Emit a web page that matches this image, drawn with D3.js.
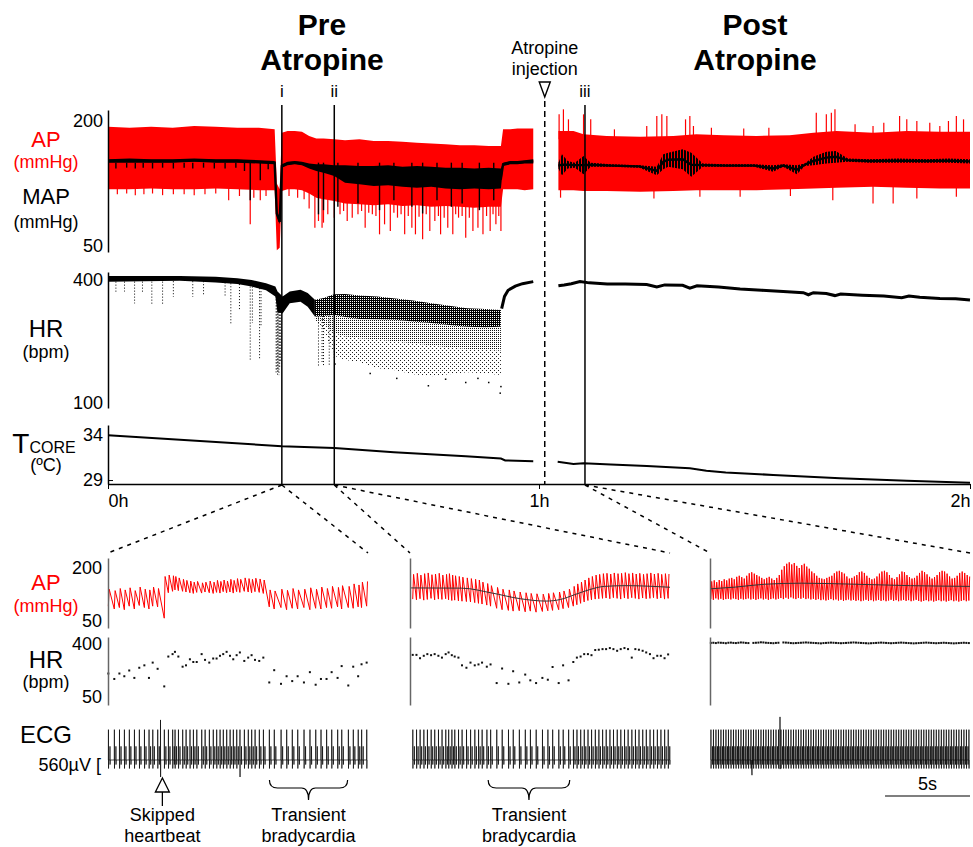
<!DOCTYPE html>
<html>
<head>
<meta charset="utf-8">
<script src="https://cdn.jsdelivr.net/npm/d3@7"></script>
<style>
  body { margin: 0; background: #fff; }
  svg { display: block; font-family: "Liberation Sans", Arial, sans-serif; }
</style>
</head>
<body>
<script>
// ---------------- overview data (time in minutes) ----------------

// arterial pressure band before atropine (mmHg)
var apPreT  = [0, 3, 6, 9, 12, 15, 18, 21, 23.2, 23.5, 23.9, 24.2, 25, 26, 27, 28, 29, 30, 31.5, 33, 35, 37, 39, 41, 43, 45, 47, 49, 51, 53, 54.7, 55.0, 56, 57, 58, 59.2];
var apPreHi = [193, 192, 193, 192, 194, 193, 192, 192, 190, 125, 118, 186, 188, 188, 187, 182, 179, 179, 178, 177, 178, 176, 176, 175, 174, 173, 172, 171, 171, 170, 170, 190, 190, 191, 191, 191];
var apPreLo = [118, 118, 119, 118, 118, 119, 118, 117, 117, 45, 48, 116, 118, 118, 117, 113, 108, 106, 104, 101, 100, 99, 100, 98, 99, 97, 98, 97, 96, 97, 97, 118, 118, 118, 117, 118];
var mapPreHi = [154, 155, 154, 154, 155, 154, 154, 153, 152, 92, 82, 148, 151, 152, 151, 149, 148, 148, 147, 147, 146, 146, 147, 145, 146, 145, 144, 144, 143, 144, 143, 150, 152, 152, 153, 154];
var mapPreLo = [150, 150, 150, 150, 151, 150, 150, 149, 148, 86, 76, 144, 147, 148, 147, 143, 140, 138, 134, 126, 124, 122, 123, 121, 120, 121, 119, 118, 119, 118, 119, 146, 148, 148, 149, 149];
var apPreSpikes = [[1.3,112],[2.6,113],[3.8,111],[5.0,112],[6.2,113],[7.6,111],[9.1,112],[10.6,112],[12.0,111],[13.5,112],[15.0,113],[16.8,105],[18.3,110],[19.8,76],[20.3,108],[21.2,105],[22.0,110],
  [25.2,110],[26.4,108],[27.3,106],[28.0,95],[28.8,72],[29.3,80],[29.8,72],[30.0,78],[30.6,88],[31.5,84],[32.3,88],[32.8,92],[33.3,80],[34.0,84],[34.8,88],[35.3,92],[35.8,72],[36.3,90],[36.8,88],[37.3,86],[37.8,64],[38.5,76],[39.3,68],[39.8,90],[40.3,84],[40.8,88],[41.3,64],[41.8,86],[42.3,72],[42.8,64],[43.3,85],[43.8,58],[44.3,88],[44.8,68],[45.5,80],[46.0,86],[46.3,64],[46.8,84],[47.3,72],[48.0,64],[48.4,88],[48.8,84],[49.3,86],[49.8,60],[50.3,84],[50.8,68],[51.5,72],[52.2,64],[52.7,86],[53.2,68],[53.6,88],[54.0,76],[54.4,86],[54.7,68]];
var mapPreDips = [[1.1,143],[2.6,144],[3.8,143],[4.9,144],[6.2,143],[7.6,144],[9.1,143],[10.6,144],[11.8,143],[13.3,144],[14.8,143],[16.3,143],[17.8,144],[19.0,140],[19.8,105],[21.2,129],[22.3,142],
  [29.3,88],[30.0,93],[32.0,97],[34.8,101],[37.8,93],[39.8,105],[42.3,97],[43.8,89],[45.8,105],[47.8,97],[49.3,101],[51.7,93],[53.7,105]];

// arterial pressure band after atropine
var apPostT  = [62.7, 64.8, 66.2, 69.4, 74.1, 78.7, 81.9, 85.7, 90.3, 94.9, 98.2, 101.4, 106.5, 111.2, 115.8, 120];
var apPostHi = [188, 188, 184, 182, 181, 182, 184, 183, 182, 183, 186, 188, 186, 188, 187, 187];
var apPostLo = [117, 117, 116, 116, 115, 116, 117, 117, 117, 118, 119, 120, 121, 120, 119, 119];
var apPostUp = [[62.8,208],[63.4,214],[64.1,202],[66.2,208],[67.2,202],[70.5,190],[75.0,194],[76.4,206],[77.1,208],[77.8,206],[80.4,202],[81.0,206],[81.5,194],[84.0,192],[88.5,191],[92.0,192],
  [98.6,210],[100.0,208],[100.7,210],[101.2,214],[104.0,196],[106.5,194],[108.0,198],[110.2,206],[111.2,202],[112.6,200],[114.4,198],[115.8,194],[117.0,200],[118.1,206],[119.1,202]];
var apPostDown = [[63.0,108],[76.0,107],[82.4,109],[88.0,109],[95.0,110],[100.9,105],[106.5,101],[109.3,101],[112.6,107],[118.1,109]];
var mapPostT  = [62.7, 63.2, 64.0, 65.0, 66.2, 67.2, 70, 74, 76.4, 77.3, 78.0, 80.0, 81.2, 82.8, 86, 90, 92.6, 94, 95.9, 97, 98.2, 100, 101.3, 103, 106, 110, 114, 117, 120];
var mapPostHi = [150, 160, 152, 150, 158, 150, 148, 147, 145, 160, 162, 166, 162, 149, 148, 148, 147, 148, 147, 149, 157, 163, 164, 155, 154, 155, 154, 155, 154];
var mapPostLo = [143, 135, 143, 144, 136, 145, 145, 144, 135, 142, 145, 142, 133, 145, 145, 145, 139, 145, 136, 146, 147, 149, 150, 151, 150, 150, 150, 150, 149];

// heart rate (bpm)
var hrBandT  = [0, 5, 10, 15, 18, 20, 22, 23.3, 23.6, 24.0, 24.3, 25.3, 26.8, 27.8, 28.8];
var hrBandHi = [410, 410, 410, 408, 404, 400, 392, 384, 372, 365, 360, 372, 376, 368, 352];
var hrBandLo = [396, 397, 398, 394, 390, 384, 375, 360, 320, 320, 318, 343, 347, 335, 311];
var hrColumns = [[1.1,396,368],[2.3,396,372],[3.7,396,343],[4.8,396,368],[6.1,396,339],[7.6,396,339],[9.1,397,359],[11.8,397,359],[13.3,397,364],[16.3,394,359],[17.1,392,291],[18.3,390,327],[19.8,384,205],[20.1,384,295],[21.1,380,205],[21.3,380,286],
  [23.4,360,170],[23.5,360,180],[23.6,340,165],[23.7,340,175],[23.8,330,168],[23.9,330,185],[24.0,330,200],
  [29.3,311,189],[29.8,312,200],[30.0,312,189],[30.8,313,189],[31.5,315,205]];
var hrDenseT  = [28.8, 30, 31.5, 33, 35, 37.5, 40, 42.5, 45, 47.5, 50, 52.5, 54.7];
var hrDenseHi = [352, 356, 365, 366, 362, 360, 355, 350, 343, 337, 331, 329, 327];
var hrDenseLo = [311, 312, 315, 310, 305, 304, 303, 299, 295, 290, 286, 285, 286];
var hrMidLo   = [305, 295, 270, 262, 258, 255, 250, 246, 240, 236, 232, 230, 228];
var hrSparseLo = [300, 280, 215, 205, 200, 185, 180, 170, 165, 170, 175, 172, 168];
var hrOutliers = [[31.6,195],[36.5,172],[40.2,160],[44.6,142],[47.0,158],[49.8,150],[51.5,160],[53.0,150],[54.6,124],[54.7,140]];
var hrRecoverT = [54.8, 55.2, 55.7, 56.7, 57.7, 59.2];
var hrRecover  = [330, 360, 375, 385, 391, 396];
var hrPostT = [62.7, 63.5, 64.5, 65.7, 67, 69.5, 72, 75, 76.4, 77.5, 80, 81, 82, 85, 88, 91, 94, 96.8, 97.5, 98.2, 100, 101.2, 102, 105, 108, 110.5, 111.5, 113, 115.8, 118, 120];
var hrPost  = [386, 388, 391, 396, 393, 390, 390, 389, 383, 388, 387, 380, 386, 383, 378, 375, 372, 369, 364, 369, 367, 362, 366, 363, 361, 357, 361, 358, 355, 354, 351];

// core temperature (ºC)
var tPreT  = [0, 24.2, 31.5, 39.8, 49.8, 54.7, 55.3, 59.2];
var tPre   = [33.98, 32.76, 32.57, 32.09, 31.64, 31.39, 31.17, 31.09];
var tPostT = [62.6, 64.8, 66.2, 70, 75, 81, 83.3, 86, 92.6, 101.9, 111.2, 120];
var tPost  = [31.03, 30.78, 30.86, 30.72, 30.57, 30.3, 30.03, 29.85, 29.56, 29.19, 28.92, 28.7];

var markerLabels = ["i", "ii", "iii"];
var markerTimes = [24.2, 31.5, 66.4];
var injectionTime = 60.8;
var hourTicks = [0, 60, 120];
var hourLabels = ["0h", "1h", "2h"];

// ---------------- zoomed panels (time in seconds) ----------------
var panelSpan = 15.3;

var beatT_i = [0.02,0.37,0.67,0.96,1.25,1.55,1.84,2.14,2.41,2.63, 2.92,3.31,3.55,3.80,3.94,4.14,4.39,4.59,4.82,5.02,
  5.22,5.51,5.71,5.96,6.19,6.39,6.59,6.78,6.98,7.18, 7.37,7.57,7.76,8.02,8.25,8.45,8.65,8.90,9.14,9.49,
  9.78,10.18,10.51,10.84,11.16,11.53,11.88,12.22,12.53,12.86, 13.16,13.51,13.75,14.14,14.43,14.72,14.92,15.22];
var hr_i = [205,169,205,187,225,176,243,259,176,277, 236,120,317,333,348,317,250,259,299,281,
  281,333,295,277,304,304,322,333,348,322, 299,326,344,288,310,326,295,288,310,146,
  227,137,187,155,187,146,214,131,169,169, 214,176,254,126,250,187,266,277];
var sys_i = [140,136,142,138,144,136,146,140,138,146,142, 176,
  180,178,176,172,168,165,163,160,162,158,160,163,160,165,162,166,163,168,165,170,168,172,170,168,171,169,166,
  138,135,140,137,142,138,140,144,140,146,142,148,145,150,148,155,152,160,162];
var dia_i = [92,84,88,82,92,84,94,88,84,92,90, 58,
  130,134,138,136,134,132,130,128,131,129,132,130,128,131,129,133,130,132,129,133,131,134,132,130,133,131,128,
  90,84,88,82,86,84,88,82,86,84,88,86,90,84,88,86,90,88,92];

var beatT_ii = [0.16,0.38,0.59,0.81,1.02,1.24,1.45,1.67,1.88,2.10, 2.27,2.46,2.63,2.85,3.06,3.32,3.56,3.81,4.03,4.24,
  4.52,4.74,5.10,5.42,5.79,6.07,6.43,6.78,7.08,7.42, 7.79,8.11,8.39,8.75,9.01,9.33,9.61,9.82,10.04,10.25,
  10.47,10.68,10.90,11.11,11.33,11.54,11.76,11.97,12.19,12.40, 12.62,12.83,13.05,13.26,13.47,13.69,13.90,14.12,14.33,14.55,
  14.76,14.98,15.19];
var hr_ii = [328,328,306,322,333,326,333,322,310,333, 344,326,317,310,259,243,277,259,265,277,
  250,265,142,238,137,220,146,198,160,142, 176,164,248,142,259,160,281,310,317,333,
  333,326,360,362,366,366,373,366,355,366, 373,366,310,366,362,355,344,333,306,322,
  322,306,331];
var sys_ii = [182,185,180,184,186,181,183,185,180,182, 184,180,178,176,174,172,170,168,166,160,
  156,150, 145,140,138,135,132,130,128,127, 126,128,130,132,135,140,148,
  155,160,166,172,176,180,182,184, 185,183,186,184,185,187,184,186,183,185,182,184,186,183,185,182,184,183];
var dia_ii = [112,110,113,109,111,114,110,112,111,113, 110,108,109,107,106,105,104,102,100,98,
  95,92, 86,82,80,78,79,76,78,75, 77,79,80,82,85,88,92,
  96,100,104,108,110,112,113,114, 115,113,116,114,112,115,113,116,114,112,115,113,114,116,113,115,112,114];
var mapII = [[0.06,143.6],[3.06,143],[4.78,129.6],[6.5,113],[8.0,106.4],[8.86,111],[9.72,125],[10.58,139],[11.43,148],[12.72,150],[15.3,145.5]];

// panel iii: beats follow one another at 60/HR seconds
var hrIIIStart = 0.05;
var hr_iii = [407,408,406,409,408,407,405,408,409,407,406,408,410,409,407,406,405,407,408,409,411,410,408,407,406,405,407,408,409,410,
  409,408,406,405,406,407,408,409,410,409,408,407,406,405,404,406,407,408,409,408,407,406,405,406,407,408,409,410,409,408,
  407,406,405,404,405,406,407,408,409,408,407,406,405,406,407,408,409,408,407,406,405,404,405,406,407,408,409,408,407,406,
  405,406,407,408,407,406,405,404,405,406,407,408,407,406];
var hrIIIGaps = [16, 28];
var sys_iii = [162,165,160,166,163,168,165, 170,172,168,175,178,174,170, 178,185,188,184,180,176,172, 168,172,175,170,166,172,180,
  195,205,212,216,210,214,206,200, 208,212,204,198,190,185,178,172, 170,168,172,175,178,185,190,192, 188,184,176,170,172,176,180,188,
  190,186,178,172,168,170,176,184, 190,192,188,180,172,168,174,182, 190,188,180,174,170,172,178,186, 192,188,182,175,170,174,180,188,
  192,190,184,176,170,172,178,186,190,186,180,176];
var dia_iii = [112,110,114,111,113,110,112, 113,111,114,112,110,113,111, 112,114,111,113,110,112,114, 111,113,110,112,114,111,113,
  115,112,116,113,117,114,112,115, 113,116,112,114,111,113,110,112, 109,111,108,110,112,109,111,108, 110,107,109,111,108,110,107,109,
  106,108,110,107,109,106,108,110, 107,109,106,108,110,107,109,106, 108,110,107,109,106,108,110,107, 105,107,109,106,108,105,107,109,
  106,108,105,107,109,106,108,105,107,109,106,108];
var mapIII = [[0,141],[1.5,146],[3.2,154],[5.4,157],[8.6,154],[11.8,150],[15.3,148]];

// one ECG complex (s after R onset, µV) and the odd deflections in each panel
var ecgShape = [[0,0],[0.006,1000],[0.012,-280],[0.02,0],[0.09,0],[0.096,450],[0.102,-150],[0.11,0]];
var ecgExtra_i = [[3.085,0],[3.09,1320],[3.095,-560],[3.10,0],[7.70,0],[7.77,-560],[7.86,0]];
var ecgExtra_ii = [[12.58,0],[12.62,420],[12.68,0]];
var ecgExtra_iii = [[2.42,0],[2.47,-500],[2.52,0],[4.115,0],[4.12,1420],[4.125,-300],[4.13,0]];

var RED = "#ff0000";

// ---------------- drawing ----------------
var svg = d3.select("body").append("svg")
    .attr("width", 973)
    .attr("height", 847);

var defs = svg.append("defs");
function speckle(id, w, h, cells, color) {
  var p = defs.append("pattern").attr("id", id)
      .attr("width", w).attr("height", h).attr("patternUnits", "userSpaceOnUse");
  cells.forEach(function(c) {
    p.append("rect").attr("x", c[0]).attr("y", c[1]).attr("width", c[2]).attr("height", c[3]).attr("fill", color);
  });
}
speckle("dense", 2, 2, [[0, 0, 2, 1], [1, 1, 1, 1]], "#000");     // thick part of the HR cloud
speckle("mid", 2, 2, [[0, 0, 1, 1]], "#111");                       // thinner part
speckle("sparse", 4, 4, [[0, 0, 1, 1], [2, 2, 1, 1]], "#222");      // scattered beats
speckle("hatch", 3, 2, [[0, 0, 2, 2]], "#000");                     // spread of the post MAP trace

function pairs(t, a, b) {
  return t.map(function(d, i) { return b ? [d, a[i], b[i]] : [d, a[i]]; });
}

// overview scales
var x = d3.scaleLinear().domain([0, 120]).range([108, 970]);
var yAP = d3.scaleLinear().domain([42.8, 213.2]).range([252, 110]);
var yHR = d3.scaleLinear().domain([87.8, 419.5]).range([408, 272]);
var yT = d3.scaleLinear().domain([28.56, 35.11]).range([484, 425]);

function band(yScale) {
  return d3.area()
      .x(function(d) { return x(d[0]); })
      .y0(function(d) { return yScale(d[2]); })
      .y1(function(d) { return yScale(d[1]); });
}
function trace(yScale) {
  return d3.line()
      .x(function(d) { return x(d[0]); })
      .y(function(d) { return yScale(d[1]); });
}

// AP bands
var apG = svg.append("g");
apG.append("path").datum(pairs(apPreT, apPreHi, apPreLo)).attr("fill", RED).attr("d", band(yAP));
apG.append("path").datum(pairs(apPostT, apPostHi, apPostLo)).attr("fill", RED).attr("d", band(yAP));

apG.selectAll(".spk").data(apPreSpikes.concat(apPostDown)).enter().append("line")
    .attr("x1", function(d) { return x(d[0]); }).attr("x2", function(d) { return x(d[0]); })
    .attr("y1", yAP(125)).attr("y2", function(d) { return yAP(d[1]); })
    .attr("stroke", RED).attr("stroke-width", 1.2);
apG.selectAll(".up").data(apPostUp).enter().append("line")
    .attr("x1", function(d) { return x(d[0]); }).attr("x2", function(d) { return x(d[0]); })
    .attr("y1", yAP(178)).attr("y2", function(d) { return yAP(d[1]); })
    .attr("stroke", RED).attr("stroke-width", 1.2);

// MAP: spread drawn as a band (solid before, hatched after), centre as a line
[[apPreT, mapPreHi, mapPreLo, "#000"], [mapPostT, mapPostHi, mapPostLo, "url(#hatch)"]].forEach(function(m) {
  var rows = pairs(m[0], m[1], m[2]);
  apG.append("path").datum(rows).attr("fill", m[3]).attr("d", band(yAP));
  apG.append("path").datum(rows.map(function(d) { return [d[0], (d[1] + d[2]) / 2]; }))
      .attr("fill", "none").attr("stroke", "#000").attr("stroke-width", 2.4).attr("d", trace(yAP));
});
apG.selectAll(".dip").data(mapPreDips).enter().append("line")
    .attr("x1", function(d) { return x(d[0]); }).attr("x2", function(d) { return x(d[0]); })
    .attr("y1", yAP(150)).attr("y2", function(d) { return yAP(d[1]); })
    .attr("stroke", "#000").attr("stroke-width", 1.4);

// HR
var hrG = svg.append("g");
hrG.append("path").datum(pairs(hrDenseT, hrMidLo, hrSparseLo))
    .attr("fill", "url(#sparse)").attr("d", band(yHR));
hrG.append("path").datum(pairs(hrDenseT, hrDenseLo, hrMidLo))
    .attr("fill", "url(#mid)").attr("d", band(yHR));
hrG.append("path").datum(pairs(hrDenseT, hrDenseHi, hrDenseLo))
    .attr("fill", "url(#dense)").attr("d", band(yHR));
hrG.append("path").datum(pairs(hrBandT, hrBandHi, hrBandLo))
    .attr("fill", "#000").attr("d", band(yHR));
hrG.selectAll(".col").data(hrColumns).enter().append("line")
    .attr("x1", function(d) { return x(d[0]); }).attr("x2", function(d) { return x(d[0]); })
    .attr("y1", function(d) { return yHR(d[1]); }).attr("y2", function(d) { return yHR(d[2]); })
    .attr("stroke", "#000").attr("stroke-width", 1).attr("stroke-dasharray", "1,2");
hrG.selectAll(".out").data(hrOutliers).enter().append("rect")
    .attr("x", function(d) { return x(d[0]) - 0.75; }).attr("y", function(d) { return yHR(d[1]) - 0.75; })
    .attr("width", 1.5).attr("height", 1.5).attr("fill", "#000");
hrG.append("path").datum(pairs(hrRecoverT, hrRecover))
    .attr("fill", "none").attr("stroke", "#000").attr("stroke-width", 3).attr("d", trace(yHR));
hrG.append("path").datum(pairs(hrPostT, hrPost))
    .attr("fill", "none").attr("stroke", "#000").attr("stroke-width", 3).attr("d", trace(yHR));

// core temperature
svg.append("path").datum(pairs(tPreT, tPre))
    .attr("fill", "none").attr("stroke", "#000").attr("stroke-width", 2).attr("d", trace(yT));
svg.append("path").datum(pairs(tPostT, tPost))
    .attr("fill", "none").attr("stroke", "#000").attr("stroke-width", 2).attr("d", trace(yT));

// time markers i, ii, iii
markerTimes.forEach(function(t, k) {
  svg.append("line").attr("x1", x(t)).attr("x2", x(t)).attr("y1", 105).attr("y2", 484)
      .attr("stroke", "#000").attr("stroke-width", 1.5);
  svg.append("text").attr("x", x(t)).attr("y", 97).attr("text-anchor", "middle")
      .attr("font-size", 17).text(markerLabels[k]);
});

// atropine injection
var xi = x(injectionTime);
svg.append("line").attr("x1", xi).attr("x2", xi).attr("y1", 101).attr("y2", 484)
    .attr("stroke", "#000").attr("stroke-width", 1.5).attr("stroke-dasharray", "6,4");
svg.append("path").attr("d", "M" + (xi - 5.5) + ",82L" + (xi + 5.5) + ",82L" + xi + ",97Z")
    .attr("fill", "#fff").attr("stroke", "#000").attr("stroke-width", 1.4);
svg.append("text").attr("x", xi).attr("y", 54).attr("text-anchor", "middle").attr("font-size", 18).text("Atropine");
svg.append("text").attr("x", xi).attr("y", 75).attr("text-anchor", "middle").attr("font-size", 18).text("injection");

// headings
[["Pre", 322, 35], ["Atropine", 322, 70], ["Post", 755, 35], ["Atropine", 755, 70]].forEach(function(h) {
  svg.append("text").attr("x", h[1]).attr("y", h[2]).attr("text-anchor", "middle")
      .attr("font-size", 30).attr("font-weight", "bold").text(h[0]);
});

// overview axes
function styleAxis(g) {
  g.attr("font-size", 18).attr("font-family", null);
  g.select(".domain").attr("stroke-width", 1.5);
  return g;
}
styleAxis(svg.append("g").attr("transform", "translate(108,0)")
    .call(d3.axisLeft(yAP).tickValues([50, 200]).tickSize(0).tickPadding(5)));
styleAxis(svg.append("g").attr("transform", "translate(108,0)")
    .call(d3.axisLeft(yHR).tickValues([100, 400]).tickSize(0).tickPadding(5)));
styleAxis(svg.append("g").attr("transform", "translate(108,0)")
    .call(d3.axisLeft(yT).tickValues([29, 34]).tickFormat(d3.format("d"))
      .tickSizeInner(-5).tickSizeOuter(0).tickPadding(5)));
var xAxisG = styleAxis(svg.append("g").attr("transform", "translate(0,484)")
    .call(d3.axisBottom(x).tickValues(hourTicks).tickSizeInner(5).tickSizeOuter(0).tickPadding(5)
      .tickFormat(function(d, i) { return hourLabels[i]; })));
xAxisG.selectAll(".tick text").attr("text-anchor", function(d, i) { return ["start", "middle", "end"][i]; });

// left labels for the overview
function label(txt, y, size, color) {
  return svg.append("text").attr("x", 46).attr("y", y).attr("text-anchor", "middle")
      .attr("font-size", size).attr("fill", color || "#000").text(txt);
}
label("AP", 147, 22, RED);
label("(mmHg)", 168, 18, RED);
label("MAP", 204, 22);
label("(mmHg)", 228, 18);
label("HR", 337, 24);
label("(bpm)", 358, 18);
var tc = svg.append("text").attr("x", 44).attr("y", 453).attr("text-anchor", "middle");
tc.append("tspan").attr("font-size", 28).text("T");
tc.append("tspan").attr("font-size", 16).text("CORE");
label("(ºC)", 471, 18);

// ---------------- zoomed panels ----------------
var panelLeft = [108, 410, 710];
var panelW = 260;
var zAP = d3.scaleLinear().domain([30.2, 228.3]).range([628, 558]);
var zHR = d3.scaleLinear().domain([-2.8, 446]).range([705, 637]);
var zECG = d3.scaleLinear().domain([0, 560]).range([760, 743]);

// beat times for panel iii from its RR intervals
var beatT_iii = [hrIIIStart];
hr_iii.forEach(function(h, k) {
  if (k < hr_iii.length - 1) beatT_iii.push(beatT_iii[k] + 60 / h);
});

var panels = [
  {beats: beatT_i, hr: hr_i, sys: sys_i, dia: dia_i, map: null, ecg: ecgExtra_i, gaps: []},
  {beats: beatT_ii, hr: hr_ii, sys: sys_ii, dia: dia_ii, map: mapII, ecg: ecgExtra_ii, gaps: []},
  {beats: beatT_iii, hr: hr_iii, sys: sys_iii, dia: dia_iii, map: mapIII, ecg: ecgExtra_iii, gaps: hrIIIGaps}
];

function inPanel(p) { return p[0] >= 0 && p[0] <= panelSpan; }

panels.forEach(function(p, k) {
  var left = panelLeft[k];
  var zx = d3.scaleLinear().domain([0, panelSpan]).range([left, left + panelW]);
  var g = svg.append("g");

  // zoom connectors
  [left, left + panelW].forEach(function(xe) {
    svg.append("line").attr("x1", x(markerTimes[k])).attr("y1", 485).attr("x2", xe).attr("y2", 553)
        .attr("stroke", "#000").attr("stroke-width", 1.5).attr("stroke-dasharray", "4,5");
  });

  // AP
  var ap = [];
  p.beats.forEach(function(tb, j) {
    ap.push([tb, p.dia[j]]);
    ap.push([tb + 0.05, p.sys[j]]);
  });
  g.append("path").datum(ap.filter(inPanel))
      .attr("fill", "none").attr("stroke", RED).attr("stroke-width", 1)
      .attr("d", d3.line().x(function(d) { return zx(d[0]); }).y(function(d) { return zAP(d[1]); }));
  if (p.map) {
    g.append("path").datum(p.map)
        .attr("fill", "none").attr("stroke", "#333").attr("stroke-width", 1)
        .attr("d", d3.line().curve(d3.curveMonotoneX)
          .x(function(d) { return zx(d[0]); }).y(function(d) { return zAP(d[1]); }));
  }

  // HR dots
  g.selectAll(".beat").data(p.beats.map(function(tb, j) { return [tb, p.hr[j], j]; })
      .filter(function(d) { return inPanel(d) && p.gaps.indexOf(d[2]) < 0; }))
    .enter().append("rect")
      .attr("x", function(d) { return zx(d[0]) - 1; })
      .attr("y", function(d) { return zHR(d[1]) - 1; })
      .attr("width", 2).attr("height", 2).attr("fill", "#111");

  // ECG
  var ecg = [];
  p.beats.forEach(function(tb) {
    ecgShape.forEach(function(s) { ecg.push([tb + s[0], s[1]]); });
  });
  ecg = ecg.concat(p.ecg).sort(function(a, b) { return a[0] - b[0]; }).filter(inPanel);
  g.append("path").datum(ecg)
      .attr("fill", "none").attr("stroke", "#000").attr("stroke-width", 0.7)
      .attr("d", d3.line().x(function(d) { return zx(d[0]); }).y(function(d) { return zECG(d[1]); }));

  // panel axes
  var a1 = svg.append("g").attr("transform", "translate(" + left + ",0)")
      .call(d3.axisLeft(zAP).tickValues(k === 0 ? [50, 200] : []).tickSize(0).tickPadding(6));
  var a2 = svg.append("g").attr("transform", "translate(" + left + ",0)")
      .call(d3.axisLeft(zHR).tickValues(k === 0 ? [50, 400] : []).tickSize(0).tickPadding(6));
  [a1, a2].forEach(function(a) {
    a.attr("font-size", 18).attr("font-family", null);
    a.select(".domain").attr("stroke", "#666").attr("stroke-width", 1.5);
  });

  // 5 s scale bar under the last panel
  if (k === 2) {
    svg.append("line").attr("x1", zx(panelSpan - 5)).attr("x2", zx(panelSpan)).attr("y1", 796).attr("y2", 796)
        .attr("stroke", "#000").attr("stroke-width", 1.2);
    svg.append("text").attr("x", (zx(panelSpan - 5) + zx(panelSpan)) / 2).attr("y", 790)
        .attr("text-anchor", "middle").attr("font-size", 18).text("5s");
  }
});

// labels for zoomed rows
label("AP", 590, 22, RED);
label("(mmHg)", 612, 18, RED);
label("HR", 668, 24);
label("(bpm)", 688, 18);
label("ECG", 743, 24);
svg.append("text").attr("x", 101).attr("y", 771).attr("text-anchor", "end").attr("font-size", 18).text("560µV [");

// skipped heartbeat arrow
var sx = d3.scaleLinear().domain([0, panelSpan]).range([108, 368]);
var ax = sx(3.2);
svg.append("path").attr("d", "M" + ax + ",778L" + (ax - 7) + ",792L" + (ax + 7) + ",792Z")
    .attr("fill", "#fff").attr("stroke", "#000").attr("stroke-width", 1.3);
svg.append("line").attr("x1", ax).attr("x2", ax).attr("y1", 792).attr("y2", 806)
    .attr("stroke", "#000").attr("stroke-width", 1.3);
svg.append("text").attr("x", ax).attr("y", 821).attr("text-anchor", "middle").attr("font-size", 18).text("Skipped");
svg.append("text").attr("x", ax).attr("y", 842).attr("text-anchor", "middle").attr("font-size", 18).text("heartbeat");

// transient bradycardia braces (panel, start s, end s)
var braces = [[0, 9.5, 14.1], [1, 4.6, 9.4]];
braces.forEach(function(b) {
  var bx = d3.scaleLinear().domain([0, panelSpan]).range([panelLeft[b[0]], panelLeft[b[0]] + panelW]);
  var x1 = bx(b[1]), x2 = bx(b[2]), m = (x1 + x2) / 2;
  svg.append("path")
      .attr("d", "M" + x1 + ",780Q" + x1 + ",788 " + (x1 + 8) + ",788L" + (m - 7) + ",788Q" + m + ",788 " + m + ",800"
        + "Q" + m + ",788 " + (m + 7) + ",788L" + (x2 - 8) + ",788Q" + x2 + ",788 " + x2 + ",780")
      .attr("fill", "none").attr("stroke", "#000").attr("stroke-width", 1.2);
  svg.append("text").attr("x", m).attr("y", 821).attr("text-anchor", "middle").attr("font-size", 18).text("Transient");
  svg.append("text").attr("x", m).attr("y", 842).attr("text-anchor", "middle").attr("font-size", 18).text("bradycardia");
});
</script>
</body>
</html>
